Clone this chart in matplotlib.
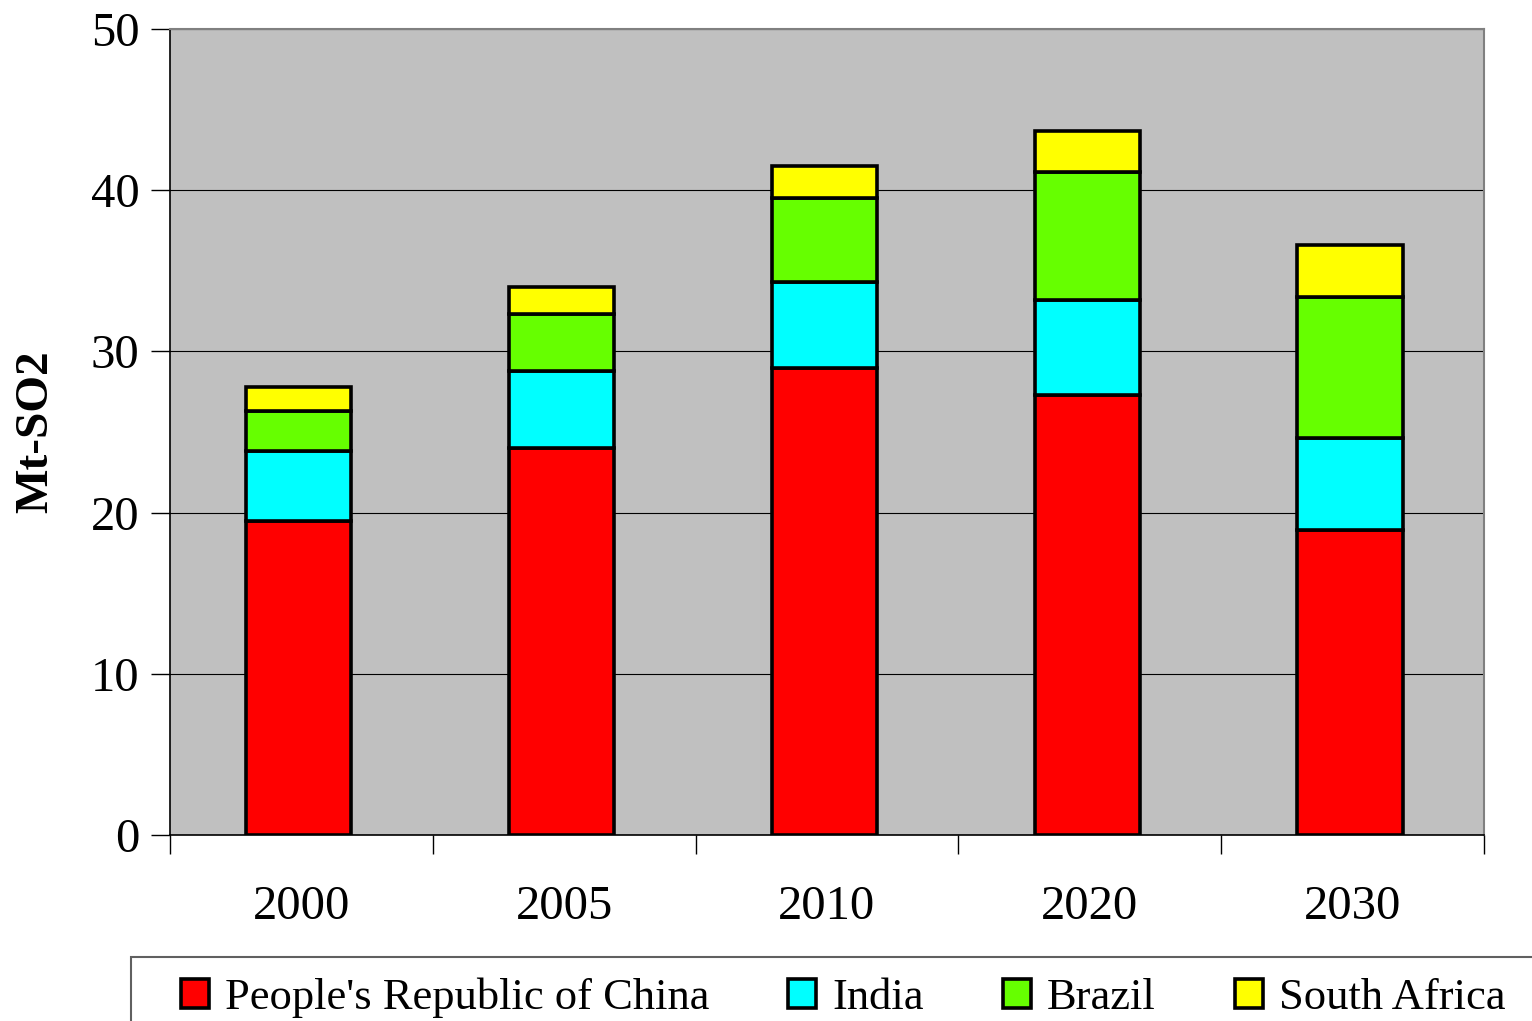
import numpy as np
import matplotlib.pyplot as plt
from matplotlib.patches import Rectangle

years = ['2000', '2005', '2010', '2020', '2030']
china = [19.5, 24.0, 29.0, 27.3, 18.9]
india = [4.3, 4.8, 5.3, 5.9, 5.7]
brazil = [2.5, 3.5, 5.2, 7.9, 8.8]
south_africa = [1.5, 1.7, 2.0, 2.6, 3.2]

series = [("People's Republic of China", china, '#FF0000'),
          ('India', india, '#00FFFF'),
          ('Brazil', brazil, '#66FF00'),
          ('South Africa', south_africa, '#FFFF00')]

plt.rcParams['font.family'] = ['Liberation Serif', 'DejaVu Serif']

fig = plt.figure(figsize=(15.32, 10.21), dpi=100)
ax = fig.add_axes([170/1532, 1-835/1021, (1484-170)/1532, (835-29)/1021])
ax.set_facecolor('#C0C0C0')

x = np.arange(len(years))
bottom = np.zeros(len(years))
for name, vals, col in series:
    ax.bar(x - 0.01, vals, 0.4, bottom=bottom, color=col, edgecolor='black',
           linewidth=2.6, label=name, zorder=3)
    bottom += np.array(vals)

ax.set_xlim(-0.5, len(years) - 0.5)
ax.set_ylim(0, 50)
ax.set_yticks(range(0, 51, 10))
ax.yaxis.grid(True, color='black', linewidth=0.8, zorder=0)
ax.tick_params(axis='y', labelsize=35, length=14, width=1, direction='out', pad=8)

# category ticks on the boundaries, labels in the middle
ax.set_xticks(np.arange(-0.5, len(years)), minor=False)
ax.set_xticklabels([])
ax.tick_params(axis='x', which='major', length=14, width=1, direction='out')
ax.set_xticks(x, minor=True)
ax.set_xticklabels(years, minor=True)
ax.tick_params(axis='x', which='minor', length=0, labelsize=35, pad=36)

for s in ['top', 'right']:
    ax.spines[s].set_color('#808080')
    ax.spines[s].set_linewidth(1.5)
for s in ['left', 'bottom']:
    ax.spines[s].set_color('black')
    ax.spines[s].set_linewidth(1.2)

ax.set_ylabel('Mt-SO2', fontsize=34, fontweight='bold', labelpad=24)

# legend box running off the page edge
fig.patches.append(Rectangle((131/1532, -0.05), 1.2, (1021-957)/1021 + 0.05,
                             transform=fig.transFigure, facecolor='white',
                             edgecolor='#606060', linewidth=1.5))
fig.legend(loc='center left', bbox_to_anchor=(181/1532, 1-998/1021), ncol=4,
           frameon=False, fontsize=32, handlelength=0.63, handleheight=0.63,
           handletextpad=0.36, columnspacing=1.78, borderaxespad=0, borderpad=0)

fig.savefig('out.png', dpi=100)
